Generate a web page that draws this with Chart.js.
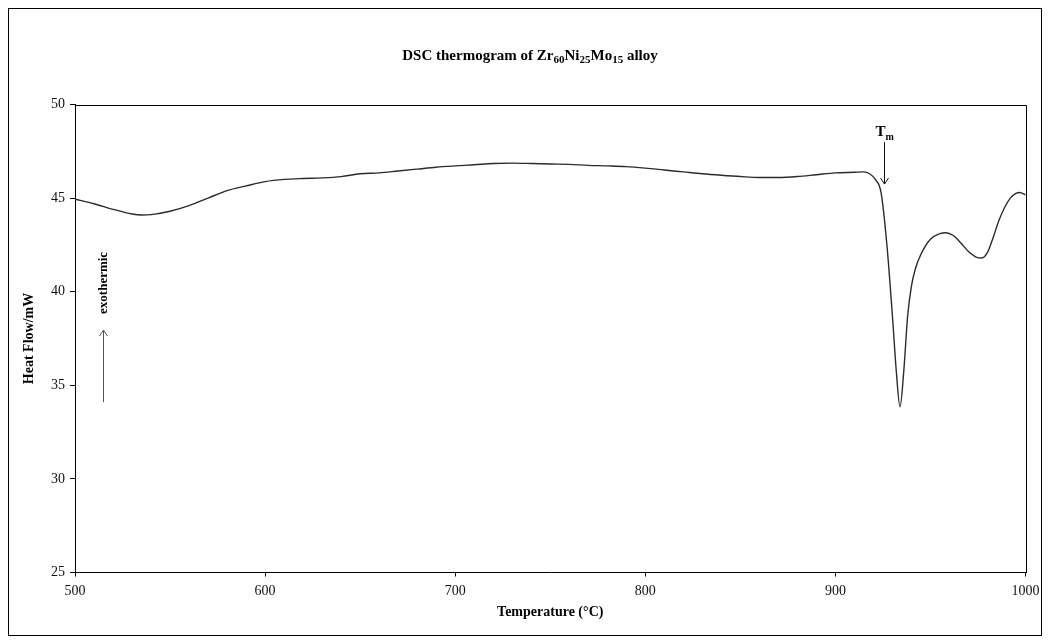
<!DOCTYPE html>
<html>
<head>
<meta charset="utf-8">
<script src="https://cdn.jsdelivr.net/npm/chart.js@4.4.0/dist/chart.umd.min.js"></script>
<style>
  body { margin: 0; background: #fff; }
  canvas { display: block; }
</style>
</head>
<body>
<canvas id="dsc" width="1050" height="644"></canvas>
<script>
// temperature (°C) / heat flow (mW)
const temperatures = [500, 510, 520, 530, 535, 540, 550, 560, 570, 580, 590, 600, 610, 620, 630, 640, 650, 660, 670, 680,
  690, 700, 710, 720, 730, 740, 750, 760, 770, 780, 790, 800, 810, 820, 830, 840, 850, 860, 870, 880, 890, 900, 910, 915,
  918, 921, 924, 927, 930, 932, 934, 936, 938, 940, 942, 945, 950, 955, 958, 962, 966, 970, 974, 977, 980, 983, 986, 989,
  992, 995, 997, 1000]
const heatFlow = [44.94, 44.7, 44.4, 44.15, 44.1, 44.12, 44.3, 44.6, 45.0, 45.4, 45.65, 45.88, 46.0, 46.05, 46.08, 46.15,
  46.3, 46.35, 46.45, 46.55, 46.65, 46.72, 46.78, 46.85, 46.87, 46.85, 46.82, 46.8, 46.75, 46.72, 46.68, 46.6, 46.5, 46.4,
  46.3, 46.22, 46.15, 46.1, 46.1, 46.15, 46.25, 46.35, 46.38, 46.4, 46.3, 46.0, 45.3, 42.6, 38.7, 35.8, 33.85, 35.8, 38.7,
  40.3, 41.2, 42.0, 42.8, 43.1, 43.15, 43.0, 42.6, 42.15, 41.85, 41.8, 42.1, 42.9, 43.8, 44.5, 45.0, 45.25, 45.3, 45.17]

const xTickValues = [500, 600, 700, 800, 900, 1000]
const yTickValues = [25, 30, 35, 40, 45, 50]

// title pieces: [text, isSubscript]
const titleParts = [['DSC thermogram of Zr', false], ['60', true], ['Ni', false], ['25', true], ['Mo', false], ['15', true], [' alloy', false]]

// annotations in data coordinates
const meltArrow = { x: 925.4, from: 48.0, to: 45.75, label: 'T', sub: 'm' }
const exoArrow = { x: 514.7, from: 34.1, to: 37.95, labelAt: 40.47, label: 'exothermic' }

const serif = '"Liberation Serif", "Times New Roman", serif'

const drawArrowHead = (ctx, x, y, dir) => {
  ctx.beginPath()
  ctx.moveTo(x - 4, y - dir * 6)
  ctx.lineTo(x, y)
  ctx.lineTo(x + 4, y - dir * 6)
  ctx.stroke()
}

const decorations = {
  id: 'decorations',
  afterDraw(chart) {
    const { ctx, chartArea: area, scales: { x, y } } = chart
    ctx.save()

    // outer frame
    ctx.strokeStyle = '#000'
    ctx.lineWidth = 1
    ctx.strokeRect(8.5, 8.5, 1033, 627)

    // top and right sides of the plot box
    const l = Math.round(area.left) + 0.5, t = Math.round(area.top) + 0.5
    const r = Math.round(area.right) + 0.5, b = Math.round(area.bottom)
    ctx.beginPath()
    ctx.moveTo(l, t)
    ctx.lineTo(r, t)
    ctx.lineTo(r, b)
    ctx.stroke()

    // title with subscripts
    ctx.fillStyle = '#000'
    ctx.textBaseline = 'alphabetic'
    const mainFont = 'bold 15px ' + serif
    const subFont = 'bold 11px ' + serif
    let total = 0
    titleParts.forEach(([txt, sub]) => { ctx.font = sub ? subFont : mainFont; total += ctx.measureText(txt).width })
    let cx = 530 - total / 2
    titleParts.forEach(([txt, sub]) => {
      ctx.font = sub ? subFont : mainFont
      ctx.textAlign = 'left'
      ctx.fillText(txt, cx, sub ? 63 : 60)
      cx += ctx.measureText(txt).width
    })

    // Tm marker
    const mx = Math.round(x.getPixelForValue(meltArrow.x)) + 0.5
    const my1 = y.getPixelForValue(meltArrow.from)
    const my2 = y.getPixelForValue(meltArrow.to)
    ctx.strokeStyle = '#111'
    ctx.beginPath()
    ctx.moveTo(mx, my1)
    ctx.lineTo(mx, my2)
    ctx.stroke()
    drawArrowHead(ctx, mx, my2, 1)
    ctx.font = 'bold 15px ' + serif
    ctx.textAlign = 'right'
    ctx.fillText(meltArrow.label, mx + 1, my1 - 6)
    ctx.font = 'bold 10px ' + serif
    ctx.textAlign = 'left'
    ctx.fillText(meltArrow.sub, mx + 1, my1 - 2)

    // exothermic marker
    const ex = Math.round(x.getPixelForValue(exoArrow.x)) + 0.5
    const ey1 = y.getPixelForValue(exoArrow.from)
    const ey2 = y.getPixelForValue(exoArrow.to)
    ctx.strokeStyle = '#555'
    ctx.beginPath()
    ctx.moveTo(ex, ey1)
    ctx.lineTo(ex, ey2)
    ctx.stroke()
    drawArrowHead(ctx, ex, ey2, -1)
    ctx.translate(ex, y.getPixelForValue(exoArrow.labelAt))
    ctx.rotate(-Math.PI / 2)
    ctx.font = 'bold 13px ' + serif
    ctx.textAlign = 'center'
    ctx.textBaseline = 'middle'
    ctx.fillText(exoArrow.label, 0, 0)

    ctx.restore()
  }
}

const points = temperatures.map((t, i) => ({ x: t, y: heatFlow[i] }))

new Chart(document.getElementById('dsc').getContext('2d'), {
  type: 'line',
  data: {
    datasets: [{
      label: 'Heat flow',
      data: points,
      borderColor: '#2b2b2b',
      borderWidth: 1.4,
      pointRadius: 0,
      fill: false,
      cubicInterpolationMode: 'monotone'
    }]
  },
  options: {
    responsive: false,
    animation: false,
    layout: { padding: { left: 0, top: 104.5, right: 24.5, bottom: 0 } },
    plugins: { legend: { display: false }, tooltip: { enabled: false } },
    scales: {
      x: {
        type: 'linear',
        min: 500,
        max: 1000,
        afterFit: (scale) => { scale.height = 71.5 },
        afterBuildTicks: (scale) => { scale.ticks = xTickValues.map(v => ({ value: v })) },
        grid: { drawOnChartArea: false, tickLength: 4, color: '#000' },
        border: { color: '#000', width: 1 },
        ticks: {
          color: '#111',
          padding: 6,
          maxRotation: 0,
          font: { family: serif, size: 14 },
          callback: (v) => String(v)
        },
        title: {
          display: true,
          text: 'Temperature (°C)',
          color: '#000',
          font: { family: serif, size: 14, weight: 'bold' },
          padding: { top: 0, bottom: 23 }
        }
      },
      y: {
        min: 25,
        max: 50,
        afterFit: (scale) => { scale.width = 75 },
        afterBuildTicks: (scale) => { scale.ticks = yTickValues.map(v => ({ value: v })) },
        grid: { drawOnChartArea: false, tickLength: 5, color: '#000' },
        border: { color: '#000', width: 1 },
        ticks: { color: '#111', padding: 5, font: { family: serif, size: 14 } },
        title: {
          display: true,
          text: 'Heat Flow/mW',
          color: '#000',
          font: { family: serif, size: 14, weight: 'bold' },
          padding: { top: 21, bottom: 0 }
        }
      }
    }
  },
  plugins: [decorations]
})
</script>
</body>
</html>
